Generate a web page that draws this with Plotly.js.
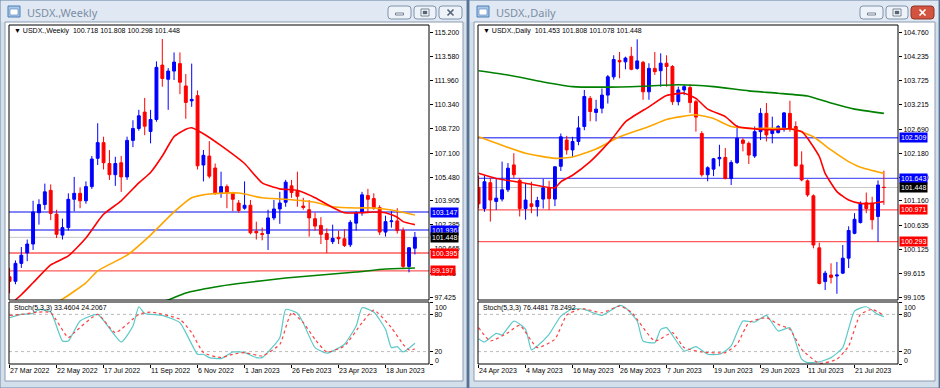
<!DOCTYPE html>
<html><head><meta charset="utf-8">
<script src="https://cdn.plot.ly/plotly-3.0.1.min.js"></script>
<style>html,body{margin:0;padding:0;background:#fff;}#chart{width:940px;height:388px;}</style>
</head><body><div id="chart"></div>
<script>
// ---------------- WEEKLY DATA ----------------
const wDates = ['2022-03-27','2022-04-03','2022-04-10','2022-04-17','2022-04-24','2022-05-01','2022-05-08','2022-05-15','2022-05-22','2022-05-29',
'2022-06-05','2022-06-12','2022-06-19','2022-06-26','2022-07-03','2022-07-10','2022-07-17','2022-07-24','2022-07-31','2022-08-07',
'2022-08-14','2022-08-21','2022-08-28','2022-09-04','2022-09-11','2022-09-18','2022-09-25','2022-10-02','2022-10-09','2022-10-16',
'2022-10-23','2022-10-30','2022-11-06','2022-11-13','2022-11-20','2022-11-27','2022-12-04','2022-12-11','2022-12-18','2022-12-25',
'2023-01-01','2023-01-08','2023-01-15','2023-01-22','2023-01-29','2023-02-05','2023-02-12','2023-02-19','2023-02-26','2023-03-05',
'2023-03-12','2023-03-19','2023-03-26','2023-04-02','2023-04-09','2023-04-16','2023-04-23','2023-04-30','2023-05-07','2023-05-14',
'2023-05-21','2023-05-28','2023-06-04','2023-06-11','2023-06-18','2023-06-25','2023-07-02','2023-07-09','2023-07-16','2023-07-23'];
const wOpen = [98.8,98.5,99.7,100.4,101.0,103.1,103.65,104.6,103.0,101.6,
102.1,104.0,104.4,103.9,104.85,106.75,107.8,106.4,105.65,106.45,
105.5,107.95,108.75,109.85,108.55,109.35,113.0,112.05,112.6,113.1,
111.6,110.6,110.95,106.3,106.9,106.1,104.4,104.85,104.4,103.75,
103.4,103.6,101.85,101.7,101.7,102.75,103.35,103.8,104.9,104.55,
103.55,103.3,102.7,102.25,101.7,101.16,101.45,101.35,100.95,102.4,
103.1,104.25,104.05,103.45,101.8,102.5,102.55,101.9,99.5,100.718];
const wHigh = [99.4,99.9,100.8,101.3,103.9,104.0,105.05,105.0,103.3,102.7,
104.4,105.5,104.8,105.2,106.9,109.1,108.2,107.3,106.85,106.9,
108.2,109.3,110.0,110.8,110.0,113.25,114.75,112.8,113.85,113.85,
112.4,113.1,111.3,107.3,107.9,106.4,105.85,105.0,104.5,103.95,
105.2,103.95,102.5,102.1,103.3,103.95,104.5,105.3,105.3,105.85,
104.1,103.95,103.1,102.8,102.05,102.3,101.9,102.0,102.6,103.2,
104.5,104.7,104.4,103.6,102.9,103.2,103.4,102.1,100.8,101.808];
const wLow = [97.7,98.3,99.4,99.85,100.6,102.3,103.3,102.6,101.4,101.3,
101.9,103.2,103.4,103.7,104.7,106.3,106.0,105.3,104.9,104.5,
105.3,107.5,108.6,108.3,107.75,109.2,111.55,110.0,112.0,111.05,
109.4,110.2,106.0,105.2,105.4,104.3,104.1,103.4,103.2,103.1,
103.3,101.65,101.3,101.25,100.6,102.6,102.35,103.5,104.1,103.5,
103.3,101.5,101.9,101.0,100.4,101.0,101.0,100.8,100.8,101.9,
102.9,103.1,103.3,101.6,101.5,102.1,101.7,99.35,99.1,100.298];
const wClose = [98.5,99.7,100.25,101.0,103.15,103.65,104.5,103.05,101.65,102.1,
104.0,104.4,103.9,104.85,106.7,107.8,106.45,105.65,106.4,105.5,
107.95,108.75,109.6,108.9,109.35,112.85,112.1,112.6,113.2,111.85,
110.5,110.7,106.25,106.95,105.55,104.4,104.85,104.45,104.0,103.25,
103.6,101.75,101.75,101.65,102.75,103.35,103.75,105.15,104.45,104.2,
103.45,102.75,102.2,101.65,101.3,101.38,101.35,100.9,102.45,103.1,
104.3,104.0,103.4,101.8,102.5,102.55,101.9,99.5,100.75,101.448];
// moving averages: [bar index, value]
const wMaRed = [[0,96.9],[2,97.6],[4,98.4],[7,99.6],[10,100.2],[13,101.4],[15,102.5],[16,103.0],[19,103.9],[22,105.1],[24,105.8],[26,106.9],[28,108.2],[30,108.7],[31,108.8],[33,108.4],[36,107.6],[40,106.4],[43,105.1],[46,104.7],[49,104.6],[52,104.1],[55,103.45],[57,103.1],[60,103.1],[62,103.15],[64,103.1],[66,102.8],[67,102.5],[69,102.3]];
const wMaOrange = [[7,96.9],[9,97.3],[13,98.4],[15,99.2],[20,100.25],[24,101.6],[28,103.15],[31,104.1],[34,104.36],[39,104.42],[43,104.1],[47,104.0],[52,103.8],[55,103.5],[59,103.42],[62,103.42],[65,103.28],[69,102.95]];
const wMaGreen = [[25,97.0],[27,97.25],[30,97.72],[35,98.12],[39,98.35],[47,98.72],[53,98.92],[59,99.12],[64,99.32],[69,99.39]];
const wStochK = [[0,74.6],[2,80],[4,81.6],[5,88],[7,83.8],[9,37.1],[10,37.1],[12,69.3],[15,80],[19,35.5],[21,61.2],[22,92.3],[23,81.6],[26,78.4],[29,66.6],[32,15.7],[33,15.7],[34,10.3],[36,8.7],[38,19.4],[40,18.4],[42,10.3],[43,10.3],[46,42.5],[47,88],[49,82],[50,66],[52,26.4],[54,17.3],[55,21],[57,31.8],[59,61.2],[60,90.7],[62,83.8],[64,55.9],[65,26.4],[66,28],[67,19.4],[69,33.46]];
const wStochD = [[0,78.4],[2,80],[5,83.8],[7,82.7],[10,42.5],[11,50.5],[15,80],[18,50.5],[22,80],[24,83.8],[29,72],[31,50.5],[33,18.4],[36,10.3],[38,15.7],[40,18.4],[43,13],[46,31.8],[48,82.7],[50,66.6],[52,39.8],[54,19.4],[57,29.1],[60,66.6],[62,87],[65,58.6],[67,31.8],[68,22.7],[69,24.21]];
const wPriceTicks = ['115.200','113.580','111.960','110.340','108.720','107.100','105.480','103.905','102.285','100.665','99.045','97.425'];
const wDateTickIdx = [0,8,16,24,32,40,48,56,64];
const wDateLabels = ['27 Mar 2022','22 May 2022','17 Jul 2022','11 Sep 2022','6 Nov 2022','1 Jan 2023','26 Feb 2023','23 Apr 2023','18 Jun 2023'];
const wLevels = [{v:103.147,c:'blue'},{v:101.936,c:'blue'},{v:101.448,c:'gray'},{v:100.395,c:'red'},{v:99.197,c:'red'}];

// ---------------- DAILY DATA ----------------
const dDates = ['2023-04-24','2023-04-25','2023-04-26','2023-04-27','2023-04-28','2023-05-01','2023-05-02','2023-05-03','2023-05-04','2023-05-05',
'2023-05-08','2023-05-09','2023-05-10','2023-05-11','2023-05-12','2023-05-15','2023-05-16','2023-05-17','2023-05-18','2023-05-19',
'2023-05-22','2023-05-23','2023-05-24','2023-05-25','2023-05-26','2023-05-29','2023-05-30','2023-05-31','2023-06-01','2023-06-02',
'2023-06-05','2023-06-06','2023-06-07','2023-06-08','2023-06-09','2023-06-12','2023-06-13','2023-06-14','2023-06-15','2023-06-16',
'2023-06-19','2023-06-20','2023-06-21','2023-06-22','2023-06-23','2023-06-26','2023-06-27','2023-06-28','2023-06-29','2023-06-30',
'2023-07-03','2023-07-04','2023-07-05','2023-07-06','2023-07-07','2023-07-10','2023-07-11','2023-07-12','2023-07-13','2023-07-14',
'2023-07-17','2023-07-18','2023-07-19','2023-07-20','2023-07-21','2023-07-24','2023-07-25','2023-07-26','2023-07-27','2023-07-28'];
const dOpen = [101.45,101.0,101.55,101.15,101.2,101.4,101.93,101.6,101.0,101.1,
101.04,101.2,101.44,101.2,101.9,102.46,102.25,102.43,102.75,103.35,
103.05,103.14,103.42,103.81,104.16,104.13,104.25,103.99,104.12,103.49,
103.99,103.94,104.1,104.03,103.28,103.53,103.58,103.28,102.6,101.72,
101.84,102.06,102.09,101.64,101.98,102.46,102.39,102.12,102.64,103.03,
102.6,102.62,102.71,103.03,102.75,101.93,101.59,101.27,100.16,99.44,
99.58,99.56,99.62,99.94,100.47,100.7,101.12,101.11,100.83,101.453];
const dHigh = [101.7,101.7,101.65,101.65,102.0,101.97,102.18,101.65,101.54,101.57,
101.25,101.63,101.59,101.9,102.6,102.55,102.53,102.97,103.53,103.4,
103.32,103.56,103.85,104.27,104.34,104.24,104.45,104.61,104.15,104.1,
104.34,104.31,104.27,104.06,103.6,103.64,103.65,103.32,102.65,101.9,
102.08,102.36,102.29,102.03,102.78,102.5,102.43,102.75,103.14,103.25,
102.96,102.78,103.06,103.3,102.86,102.22,101.62,101.3,100.27,99.67,
99.83,99.86,100.22,100.62,100.9,101.15,101.34,101.25,101.6,101.808];
const dLow = [101.0,100.93,100.72,100.97,101.15,101.35,101.65,100.83,100.76,100.9,
100.83,101.0,100.97,101.05,101.8,102.15,102.1,102.35,102.67,102.86,
102.86,103.03,103.24,103.75,103.78,103.97,103.95,103.96,103.32,103.32,
103.85,103.6,103.6,103.21,103.2,103.42,103.04,102.64,101.68,101.58,
101.69,101.9,101.62,101.5,101.95,102.22,101.95,102.08,102.46,102.43,
102.39,102.6,102.64,102.64,101.9,101.58,101.25,100.15,99.38,99.26,
99.4,99.18,99.6,99.73,100.45,100.68,100.9,100.55,100.29,101.078];
const dClose = [101.1,101.57,101.18,101.22,101.4,101.86,101.72,101.0,101.18,101.04,
101.17,101.44,101.21,101.89,102.53,102.25,102.43,102.72,103.39,103.07,
103.12,103.42,103.81,104.18,104.13,104.21,103.97,104.15,103.49,103.99,
103.92,104.1,104.03,103.28,103.53,103.6,103.26,102.95,101.72,101.87,
102.06,102.09,101.64,101.98,102.5,102.39,102.14,102.64,103.03,102.57,
102.71,102.75,103.04,102.71,101.91,101.61,101.29,100.22,99.4,99.62,
99.53,99.58,99.94,100.53,100.77,101.11,101.0,100.76,101.5,101.448];
const dMaRed = [[0,101.75],[3,101.64],[8,101.54],[13,101.44],[14,101.57],[16,101.71],[19,102.0],[21,102.25],[23,102.53],[25,102.85],[29,103.17],[32,103.41],[35,103.46],[37,103.35],[39,103.12],[42,102.96],[44,102.75],[47,102.7],[50,102.68],[53,102.7],[55,102.64],[56,102.5],[58,102.11],[59,101.75],[61,101.36],[63,101.18],[65,101.11],[67,101.11],[69,101.15]];
const dMaOrange = [[0,102.53],[4,102.35],[8,102.18],[13,102.07],[16,102.1],[20,102.27],[24,102.53],[29,102.75],[32,102.9],[37,103.0],[40,102.92],[43,102.75],[46,102.71],[51,102.71],[54,102.68],[57,102.53],[60,102.25],[63,102.0],[65,101.88],[69,101.75]];
const dMaGreen = [[0,103.94],[5,103.85],[11,103.7],[16,103.6],[22,103.59],[28,103.61],[34,103.64],[40,103.6],[46,103.51],[51,103.46],[56,103.4],[60,103.25],[64,103.12],[69,103.03]];
const dStochK = [[0,40.9],[1,35.5],[3,49.5],[4,46.8],[6,69.3],[8,55.9],[9,22.7],[10,29.1],[12,47.8],[14,77.3],[16,89.1],[18,88],[21,78.4],[24,94.5],[25,90.7],[27,69.3],[28,37.1],[30,34.4],[31,55.9],[32,58.6],[35,21],[37,28],[39,15.7],[41,15.7],[42,21],[43,29.1],[45,69.3],[47,67.7],[49,78.4],[51,53.2],[53,58.6],[55,7.7],[56,2.3],[58,3.4],[60,10.3],[62,26.4],[64,85.4],[66,92.3],[68,80],[69,76.45]];
const dStochD = [[0,58.6],[2,37.1],[5,50.5],[7,62.3],[10,26.4],[13,40],[15,79],[17,88],[18,89],[21,82.7],[24,93.4],[26,83.8],[30,37.1],[33,50.5],[35,26.4],[38,19.4],[42,18.4],[44,31.8],[46,66.6],[49,74.6],[51,63.9],[53,55.9],[55,23.7],[58,1.2],[61,7.7],[63,29.1],[65,80],[67,88],[69,78.25]];
const dPriceTicks = ['104.760','104.235','103.725','103.215','102.690','102.180','101.670','101.160','100.635','100.125','99.615','99.105'];
const dDateTickIdx = [0,8,16,24,32,40,48,56,64];
const dDateLabels = ['24 Apr 2023','4 May 2023','16 May 2023','26 May 2023','7 Jun 2023','19 Jun 2023','29 Jun 2023','11 Jul 2023','21 Jul 2023'];
const dLevels = [{v:102.509,c:'blue'},{v:101.643,c:'blue'},{v:101.448,c:'gray'},{v:100.971,c:'red'},{v:100.293,c:'red'}];
const stochTicks = ['100','80','20','0'];

// ---------------- BUILD ----------------
const W=940,H=388;
const px=v=>v/W, py=v=>1-v/H;
const FONT='Liberation Sans, Arial, sans-serif';
const lvlColor={blue:'#5a5cf5',red:'#ff5a5a',gray:'#c8c8c8'};
const boxColor={blue:'#0000ff',red:'#ff0000',gray:'#000000'};

function candle(dates,o,h,l,c,xa,ya){
  return {type:'candlestick',x:dates,open:o,high:h,low:l,close:c,xaxis:xa,yaxis:ya,
    increasing:{line:{color:'#0000ff',width:1},fillcolor:'#0000ff'},
    decreasing:{line:{color:'#ff0000',width:1},fillcolor:'#ff0000'},
    whiskerwidth:0,hoverinfo:'skip',showlegend:false};
}
function line(dates,pts,xa,ya,color,width,dash){
  return {type:'scatter',mode:'lines',x:pts.map(p=>dates[p[0]]),y:pts.map(p=>p[1]),xaxis:xa,yaxis:ya,
    line:{color:color,width:width,dash:dash||'solid',shape:'spline',smoothing:0.5},hoverinfo:'skip',showlegend:false};
}
const traces=[
  candle(wDates,wOpen,wHigh,wLow,wClose,'x','y'),
  line(wDates,wMaGreen,'x','y','#008000',1.6),
  line(wDates,wMaOrange,'x','y','#ffa500',1.6),
  line(wDates,wMaRed,'x','y','#ff0000',1.6),
  line(wDates,wStochK,'x2','y2','#5cc8c8',1.2),
  line(wDates,wStochD,'x2','y2','#ff4040',1.2,'dot'),
  candle(dDates,dOpen,dHigh,dLow,dClose,'x3','y3'),
  line(dDates,dMaGreen,'x3','y3','#008000',1.6),
  line(dDates,dMaOrange,'x3','y3','#ffa500',1.6),
  line(dDates,dMaRed,'x3','y3','#ff0000',1.6),
  line(dDates,dStochK,'x4','y4','#5cc8c8',1.2),
  line(dDates,dStochD,'x4','y4','#ff4040',1.2,'dot')
];

function xax(dates,x0,x1,anchor,ticks,labels){
  const a={type:'category',categoryorder:'array',categoryarray:dates,domain:[px(x0),px(x1)],anchor:anchor,
    range:[-0.1,71.4],showgrid:false,zeroline:false,showline:false,fixedrange:true,rangeslider:{visible:false}};
  if(ticks){a.tickvals=ticks.map(i=>dates[i]);a.ticktext=labels;a.ticks='outside';a.ticklen=3;a.tickcolor='#000';
    a.tickangle=0;a.ticklabelposition='outside right';a.tickfont={size:7,family:FONT,color:'#000'};a.showticklabels=true;}
  else {a.showticklabels=false;a.ticks='';}
  return a;
}
function yax(y0,y1,anchor,range,ticks,texts){
  return {domain:[py(y1),py(y0)],anchor:anchor,side:'right',range:range,tickvals:ticks.map(Number),ticktext:texts||ticks,
    ticks:'outside',ticklen:3,tickcolor:'#000',showgrid:false,zeroline:false,showline:false,fixedrange:true,
    tickfont:{size:7,family:FONT,color:'#000'}};
}

const shapes=[];const ann=[];
function rect(x0,y0,x1,y1,fill,lc,lw,layer){shapes.push({type:'rect',xref:'paper',yref:'paper',x0:px(x0),x1:px(x1),y0:py(y1),y1:py(y0),fillcolor:fill,line:{color:lc||'rgba(0,0,0,0)',width:lw===undefined?1:lw},layer:layer||'below'});}
function rrect(x0,y0,x1,y1,r,fill,lc){
  const X=v=>px(v),Y=v=>py(v);
  const p=`M${X(x0+r)},${Y(y0)} L${X(x1-r)},${Y(y0)} Q${X(x1)},${Y(y0)} ${X(x1)},${Y(y0+r)} L${X(x1)},${Y(y1-r)} Q${X(x1)},${Y(y1)} ${X(x1-r)},${Y(y1)} L${X(x0+r)},${Y(y1)} Q${X(x0)},${Y(y1)} ${X(x0)},${Y(y1-r)} L${X(x0)},${Y(y0+r)} Q${X(x0)},${Y(y0)} ${X(x0+r)},${Y(y0)} Z`;
  shapes.push({type:'path',xref:'paper',yref:'paper',path:p,fillcolor:fill,line:{color:lc,width:1},layer:'above'});
}
function seg(x0,y0,x1,y1,c,w){shapes.push({type:'line',xref:'paper',yref:'paper',x0:px(x0),x1:px(x1),y0:py(y0),y1:py(y1),line:{color:c,width:w},layer:'above'});}

function windowChrome(x0,x1,title,closeRed){
  rect(x0,0,x1,388,'#d4dfec','#6f88a5',1);
  rect(x0+1,1,x1-1,22,'#dfe8f3','rgba(0,0,0,0)',0);
  rect(x0+5,22,x1-4,381,'#ffffff','#8b9bb0',1);
  rect(x0+8,6,x0+20,17,'#a9c8e8','#4d7eb5',1);
  rect(x0+10,9,x0+18,15,'#ffffff','#4d7eb5',0.6);
  ann.push({xref:'paper',yref:'paper',x:px(x0+25),y:py(12),xanchor:'left',yanchor:'middle',showarrow:false,
    text:title,font:{family:'Noto Sans, DejaVu Sans, sans-serif',size:11,color:'#7d8ea4'}});
  const b=[[x1-79,x1-56],[x1-53,x1-31],[x1-28,x1-5]];
  rrect(b[0][0],6,b[0][1],19,3,'#eef3f9','#7f93ab');
  rrect(b[1][0],6,b[1][1],19,3,'#eef3f9','#7f93ab');
  rrect(b[2][0],6,b[2][1],19,3,closeRed?'#d2533f':'#eef3f9',closeRed?'#8e3528':'#7f93ab');
  const m0=(b[0][0]+b[0][1])/2, m1=(b[1][0]+b[1][1])/2, m2=(b[2][0]+b[2][1])/2;
  rect(m0-4,13,m0+4,15,'#ffffff','#55657a',0.8,'above');
  rect(m1-4,9,m1+4,16,'#ffffff','#55657a',0.8,'above');
  rect(m1-2,11,m1+2,14,'#55657a','#55657a',0.5,'above');
  const cc=closeRed?'#ffffff':'#55657a';
  seg(m2-3,9.5,m2+3,15.5,cc,1.6); seg(m2-3,15.5,m2+3,9.5,cc,1.6);
}
windowChrome(0,467,'USDX.,Weekly',false);
windowChrome(469,939,'USDX.,Daily',true);

function panel(x0,x1,xa,ya,levels,header,stochHeader){
  rect(x0,25,x1,300,'rgba(0,0,0,0)','#000',1,'above');
  rect(x0,302,x1,364,'rgba(0,0,0,0)','#000',1,'above');
  levels.forEach(L=>{
    shapes.push({type:'line',xref:xa+' domain',yref:ya,x0:0,x1:1,y0:L.v,y1:L.v,line:{color:lvlColor[L.c],width:L.c==='gray'?1:1.4},layer:'below'});
    ann.push({xref:'paper',yref:ya,x:px(x1+1),y:L.v,xanchor:'left',yanchor:'middle',showarrow:false,text:L.v.toFixed(3),
      bgcolor:boxColor[L.c],borderpad:1,font:{family:FONT,size:7,color:'#ffffff'}});
  });
  ann.push({xref:'paper',yref:'paper',x:px(x0+3),y:py(31),xanchor:'left',yanchor:'middle',showarrow:false,text:header,font:{family:FONT,size:7,color:'#000'}});
  ann.push({xref:'paper',yref:'paper',x:px(x0+3),y:py(308),xanchor:'left',yanchor:'middle',showarrow:false,text:stochHeader,font:{family:FONT,size:7,color:'#000'}});
  // stochastic 100 / 0 labels sit just inside the panel, as in the reference
  ann.push({xref:'paper',yref:'paper',x:px(x1+4),y:py(307),xanchor:'left',yanchor:'middle',showarrow:false,text:stochTicks[0],font:{family:FONT,size:7,color:'#000'}});
  ann.push({xref:'paper',yref:'paper',x:px(x1+4),y:py(360),xanchor:'left',yanchor:'middle',showarrow:false,text:stochTicks[3],font:{family:FONT,size:7,color:'#000'}});
}
panel(9,429,'x','y',wLevels,'▼&nbsp;USDX.,Weekly&nbsp;&nbsp;100.718 101.808 100.298 101.448','Stoch(5,3,3) 33.4604 24.2067');
panel(478,898,'x3','y3',dLevels,'▼&nbsp;USDX.,Daily&nbsp;&nbsp;101.453 101.808 101.078 101.448','Stoch(5,3,3) 76.4481 78.2492');
[['x2','y2'],['x4','y4']].forEach(([xa,ya])=>{[20,80].forEach(v=>shapes.push({type:'line',xref:xa+' domain',yref:ya,x0:0,x1:1,y0:v,y1:v,line:{color:'#a8a8a8',width:0.8,dash:'dot'},layer:'below'}));});

const stochTexts=['','80','20',''];
const layout={
  width:940,height:388,margin:{l:0,r:0,t:0,b:0},
  paper_bgcolor:'#3f5f82',plot_bgcolor:'#ffffff',showlegend:false,
  font:{family:FONT,size:7,color:'#000'},
  xaxis:xax(wDates,9,429,'y'),
  yaxis:yax(25,300,'x',[97.245,115.69],wPriceTicks),
  xaxis2:xax(wDates,9,429,'y2',wDateTickIdx,wDateLabels),
  yaxis2:yax(302,364,'x2',[0,100],stochTicks,stochTexts),
  xaxis3:xax(dDates,478,898,'y3'),
  yaxis3:yax(25,300,'x3',[99.047,104.916],dPriceTicks),
  xaxis4:xax(dDates,478,898,'y4',dDateTickIdx,dDateLabels),
  yaxis4:yax(302,364,'x4',[0,100],stochTicks,stochTexts),
  shapes:shapes,annotations:ann,hovermode:false
};
Plotly.newPlot('chart',traces,layout,{staticPlot:true,displayModeBar:false});
</script></body></html>
